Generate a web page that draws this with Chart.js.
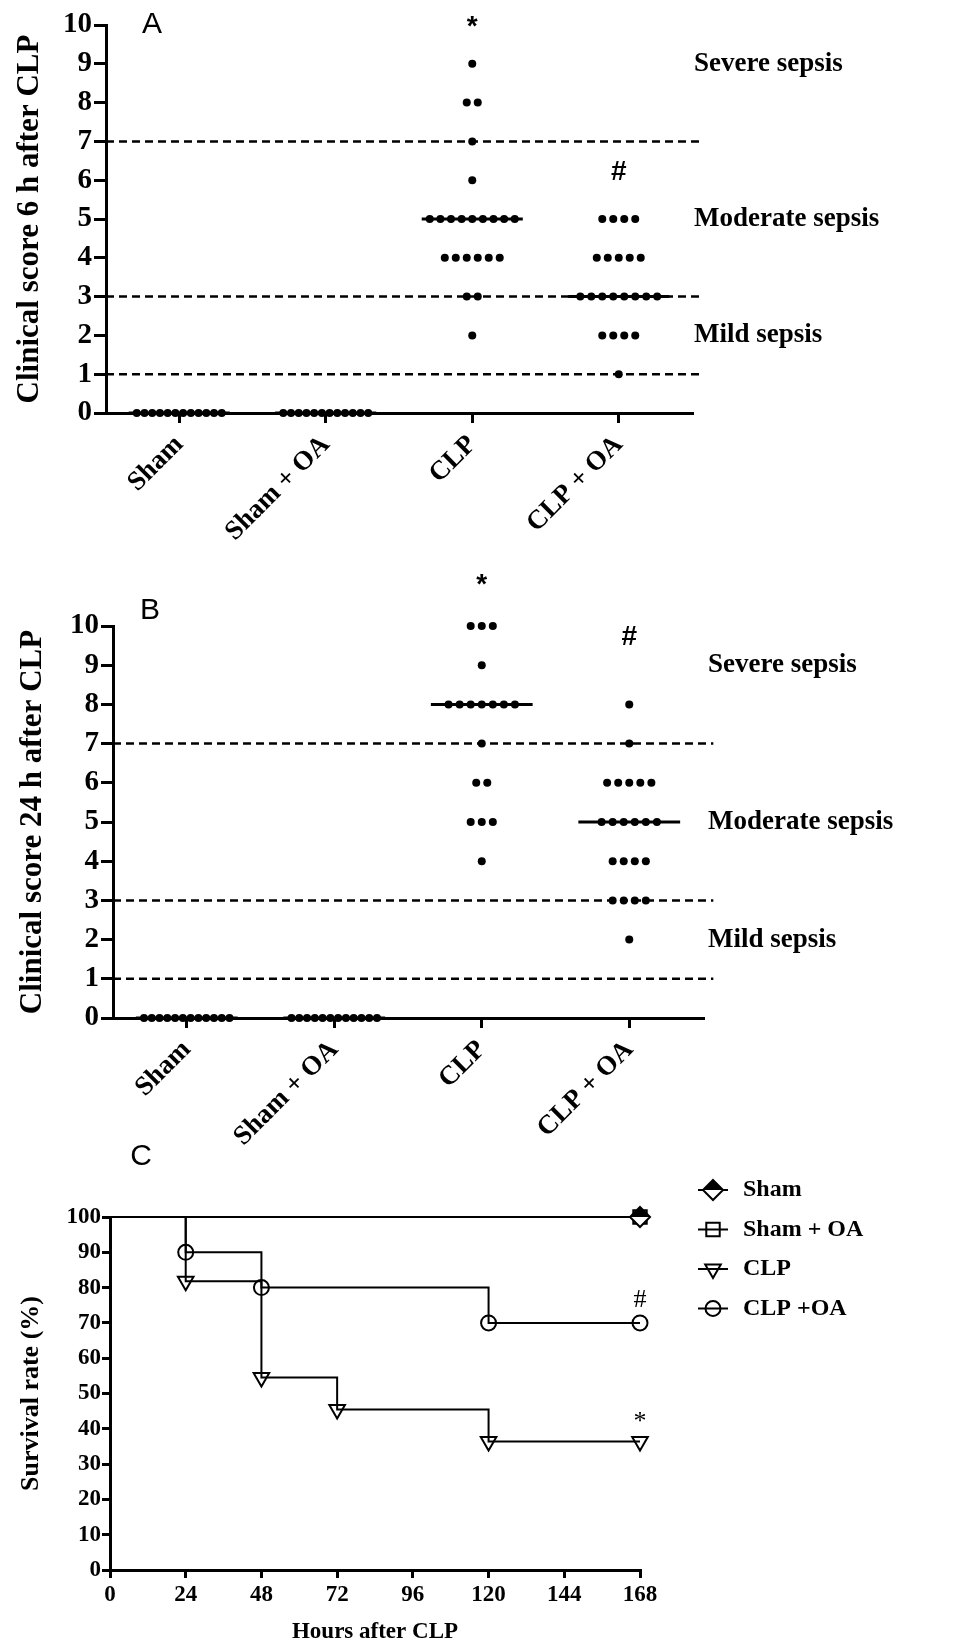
<!DOCTYPE html>
<html>
<head>
<meta charset="utf-8">
<script src="https://cdn.jsdelivr.net/npm/chart.js@4.4.1/dist/chart.umd.min.js"></script>
<style>
  body { margin: 0; background: #fff; width: 954px; height: 1648px; position: relative; overflow: hidden; }
  canvas { position: absolute; left: 0; display: block; }
</style>
</head>
<body>
<canvas id="chartA" width="954" height="570" style="top:0"></canvas>
<canvas id="chartB" width="954" height="580" style="top:570px"></canvas>
<canvas id="chartC" width="954" height="548" style="top:1100px"></canvas>
<script>
// grupos
const groups = ['Sham', 'Sham + OA', 'CLP', 'CLP + OA'];

// Panel A: clinical score 6 h after CLP
const score6hSham   = [0, 0, 0, 0, 0, 0, 0, 0, 0, 0, 0, 0];
const score6hShamOa = [0, 0, 0, 0, 0, 0, 0, 0, 0, 0, 0, 0];
const score6hClp    = [9, 8, 8, 7, 6, 5, 5, 5, 5, 5, 5, 5, 5, 5, 4, 4, 4, 4, 4, 4, 3, 3, 2];
const score6hClpOa  = [5, 5, 5, 5, 4, 4, 4, 4, 4, 3, 3, 3, 3, 3, 3, 3, 3, 2, 2, 2, 2, 1];
const sig6hText  = ['*', '#'];
const sig6hGroup = [2, 3];
const sig6hY     = [9.95, 6.2];

// Panel B: clinical score 24 h after CLP
const score24hSham   = [0, 0, 0, 0, 0, 0, 0, 0, 0, 0, 0, 0];
const score24hShamOa = [0, 0, 0, 0, 0, 0, 0, 0, 0, 0, 0, 0];
const score24hClp    = [10, 10, 10, 9, 8, 8, 8, 8, 8, 8, 8, 7, 6, 6, 5, 5, 5, 4];
const score24hClpOa  = [8, 7, 6, 6, 6, 6, 6, 5, 5, 5, 5, 5, 5, 4, 4, 4, 4, 3, 3, 3, 3, 2];
const sig24hText  = ['*', '#'];
const sig24hGroup = [2, 3];
const sig24hY     = [11.05, 9.7];

// bandas de sepsis
const thresholds = [1, 3, 7];
const zoneNames  = ['Mild sepsis', 'Moderate sepsis', 'Severe sepsis'];
const zoneY      = [2, 5, 9];

// Panel C: survival
const survNames   = ['Sham', 'Sham + OA', 'CLP', 'CLP +OA'];
const hoursSham   = [0, 168];
const survSham    = [100, 100];
const hoursShamOa = [0, 168];
const survShamOa  = [100, 100];
const hoursClp    = [0, 24, 48, 72, 120, 168];
const survClp     = [100, 81.8, 54.5, 45.5, 36.4, 36.4];
const hoursClpOa  = [0, 24, 48, 120, 168];
const survClpOa   = [100, 90, 80, 70, 70];
const sigSurvText = ['#', '*'];
const sigSurvX    = [168, 168];
const sigSurvY    = [76.5, 42];

const SERIF = '"Liberation Serif", "Times New Roman", serif';
const SANS = '"Liberation Sans", Arial, sans-serif';

function median(arr) {
    const s = [...arr].sort((a, b) => a - b);
    const n = s.length;
    return n % 2 ? s[(n - 1) / 2] : (s[n / 2 - 1] + s[n / 2]) / 2;
}

// puntos iguales uno al lado del otro
function swarm(values, gi) {
    const rows = {};
    values.forEach(v => (rows[v] = rows[v] || []).push(v));
    const pts = [];
    Object.keys(rows).forEach(k => {
        const n = rows[k].length;
        const step = n > 1 ? Math.min(0.075, 0.58 / (n - 1)) : 0;
        rows[k].forEach((v, i) => pts.push({ x: gi + (i - (n - 1) / 2) * step, y: v }));
    });
    return pts;
}

const notesPlugin = {
    id: 'notes',
    afterDatasetsDraw(chart, args, opts) {
        const { ctx, chartArea, scales: { x, y } } = chart;
        ctx.save();
        ctx.fillStyle = '#000';
        ctx.textBaseline = 'middle';
        (opts.marks || []).forEach(m => {
            ctx.font = m.font;
            ctx.textAlign = 'center';
            ctx.fillText(m.text, x.getPixelForValue(m.x), y.getPixelForValue(m.y));
        });
        (opts.zones || []).forEach(z => {
            ctx.font = 'bold 27px ' + SERIF;
            ctx.textAlign = 'left';
            ctx.fillText(z.text, chartArea.right + opts.zoneGap, y.getPixelForValue(z.y));
        });
        if (opts.letter) {
            ctx.font = opts.letter.font;
            ctx.textAlign = 'center';
            ctx.fillText(opts.letter.text, chartArea.left + opts.letter.dx, chartArea.top + opts.letter.dy);
        }
        ctx.restore();
    }
};

function axisStyle(tickLen) {
    return {
        grid: { drawOnChartArea: false, tickLength: tickLen, color: '#000', lineWidth: 3 },
        border: { color: '#000', width: 3 }
    };
}

function dotChart(id, series, sigText, sigGroup, sigY, title, geo) {
    const dots = series.flatMap((s, gi) => swarm(s, gi));
    const medians = series.map((s, gi) => ({
        data: [{ x: gi - 0.345, y: median(s) }, { x: gi + 0.345, y: median(s) }],
        showLine: true, borderColor: '#000', borderWidth: 3, pointRadius: 0, clip: false
    }));
    const dashed = thresholds.map(t => ({
        data: [{ x: -0.5, y: t }, { x: 3.57, y: t }],
        showLine: true, borderColor: '#000', borderWidth: 2.5, borderDash: [8, 5], pointRadius: 0, clip: false
    }));
    return new Chart(document.getElementById(id), {
        type: 'scatter',
        data: {
            datasets: [
                { data: dots, pointRadius: 4, pointBackgroundColor: '#000', pointBorderWidth: 0, clip: false },
                ...medians,
                ...dashed
            ]
        },
        options: {
            responsive: false,
            animation: false,
            events: [],
            layout: { padding: { left: 0, top: geo.top, right: geo.right, bottom: 0 } },
            plugins: {
                legend: { display: false },
                tooltip: { enabled: false },
                notes: {
                    marks: sigText.map((t, i) => ({ text: t, x: sigGroup[i], y: sigY[i], font: 'bold 28px ' + SANS })),
                    zones: zoneNames.map((z, i) => ({ text: z, y: zoneY[i] })),
                    zoneGap: geo.zoneGap,
                    letter: { text: geo.letter, font: '30px ' + SANS, dx: geo.letterDx, dy: geo.letterDy }
                }
            },
            scales: {
                x: {
                    type: 'linear', min: -0.5, max: 3.5,
                    afterBuildTicks: a => { a.ticks = groups.map((g, i) => ({ value: i })); },
                    afterFit: s => { s.height = geo.xHeight; },
                    ticks: {
                        callback: v => groups[v], minRotation: 45, maxRotation: 45, padding: 6,
                        color: '#000', font: { family: SERIF, weight: 'bold', size: 27 }
                    },
                    ...axisStyle(10)
                },
                y: {
                    min: 0, max: 10,
                    afterFit: s => { s.width = geo.yWidth; },
                    ticks: { stepSize: 1, padding: 2, color: '#000', font: { family: SERIF, weight: 'bold', size: 29 } },
                    title: {
                        display: true, text: title, color: '#000', padding: { top: geo.titlePad, bottom: 0 },
                        font: { family: SERIF, weight: 'bold', size: 31 }
                    },
                    ...axisStyle(12)
                }
            }
        },
        plugins: [notesPlugin]
    });
}

dotChart('chartA', [score6hSham, score6hShamOa, score6hClp, score6hClpOa],
    sig6hText, sig6hGroup, sig6hY, 'Clinical score 6 h after CLP',
    { top: 25, right: 262, xHeight: 157, yWidth: 106, titlePad: 11, zoneGap: 2, letter: 'A', letterDx: 46, letterDy: 0 });

dotChart('chartB', [score24hSham, score24hShamOa, score24hClp, score24hClpOa],
    sig24hText, sig24hGroup, sig24hY, 'Clinical score 24 h after CLP',
    { top: 56, right: 251, xHeight: 132, yWidth: 113, titlePad: 14, zoneGap: 5, letter: 'B', letterDx: 37, letterDy: -15 });

// Panel C
function halfDiamond(r) {
    const c = document.createElement('canvas');
    const s = 2 * r + 4;
    c.width = c.height = s;
    const g = c.getContext('2d');
    const m = s / 2;
    g.lineWidth = 2;
    g.beginPath();
    g.moveTo(m, m - r); g.lineTo(m + r, m); g.lineTo(m, m + r); g.lineTo(m - r, m); g.closePath();
    g.fillStyle = '#fff'; g.fill(); g.stroke();
    g.beginPath();
    g.moveTo(m, m - r); g.lineTo(m + r, m); g.lineTo(m - r, m); g.closePath();
    g.fillStyle = '#000'; g.fill();
    return c;
}

const markers = [
    { pointStyle: halfDiamond(10), radius: 10, rotation: 0 },
    { pointStyle: 'rect', radius: 9.5, rotation: 0 },
    { pointStyle: 'triangle', radius: 9, rotation: 180 },
    { pointStyle: 'circle', radius: 7.5, rotation: 0 }
];

function survSet(hours, surv, mk) {
    return {
        data: hours.map((h, i) => ({ x: h, y: surv[i] })),
        showLine: true, stepped: true, borderColor: '#000', borderWidth: 2,
        pointStyle: mk.pointStyle, pointRotation: mk.rotation,
        pointRadius: hours.map((h, i) => i === 0 ? 0 : mk.radius),
        pointBackgroundColor: 'rgba(0,0,0,0)', pointBorderColor: '#000', pointBorderWidth: 2,
        clip: false
    };
}

const legendPlugin = {
    id: 'survLegend',
    afterDraw(chart) {
        const { ctx, chartArea } = chart;
        ctx.save();
        survNames.forEach((name, i) => {
            const cx = chartArea.right + 73;
            const cy = chartArea.top - 27 + i * 39.5;
            ctx.strokeStyle = '#000';
            ctx.lineWidth = 2;
            ctx.beginPath(); ctx.moveTo(cx - 15, cy); ctx.lineTo(cx + 15, cy); ctx.stroke();
            ctx.fillStyle = 'rgba(0,0,0,0)';
            Chart.helpers.drawPoint(ctx, { pointStyle: markers[i].pointStyle, radius: markers[i].radius, rotation: markers[i].rotation, borderWidth: 2 }, cx, cy);
            ctx.fillStyle = '#000';
            ctx.font = 'bold 24px ' + SERIF;
            ctx.textAlign = 'left';
            ctx.textBaseline = 'middle';
            ctx.fillText(name, cx + 30, cy);
        });
        ctx.restore();
    }
};

new Chart(document.getElementById('chartC'), {
    type: 'scatter',
    data: {
        datasets: [
            survSet(hoursSham, survSham, markers[0]),
            survSet(hoursShamOa, survShamOa, markers[1]),
            survSet(hoursClp, survClp, markers[2]),
            survSet(hoursClpOa, survClpOa, markers[3])
        ]
    },
    options: {
        responsive: false,
        animation: false,
        events: [],
        layout: { padding: { left: 0, top: 117, right: 314, bottom: 0 } },
        plugins: {
            legend: { display: false },
            tooltip: { enabled: false },
            notes: {
                marks: sigSurvText.map((t, i) => ({ text: t, x: sigSurvX[i], y: sigSurvY[i], font: '26px ' + SERIF })),
                zones: [],
                letter: { text: 'C', font: '30px ' + SANS, dx: 31, dy: -60 }
            }
        },
        scales: {
            x: {
                type: 'linear', min: 0, max: 168,
                afterFit: s => { s.height = 78; },
                ticks: { stepSize: 24, padding: 3, maxRotation: 0, color: '#000', font: { family: SERIF, weight: 'bold', size: 23 } },
                title: { display: true, text: 'Hours after CLP', color: '#000', padding: { top: 0, bottom: 2 }, font: { family: SERIF, weight: 'bold', size: 23 } },
                ...axisStyle(8)
            },
            y: {
                min: 0, max: 100,
                afterFit: s => { s.width = 110; },
                ticks: { stepSize: 10, padding: 1, color: '#000', font: { family: SERIF, weight: 'bold', size: 23 } },
                title: { display: true, text: 'Survival rate (%)', color: '#000', padding: { top: 16, bottom: 0 }, font: { family: SERIF, weight: 'bold', size: 26 } },
                ...axisStyle(8)
            }
        }
    },
    plugins: [notesPlugin, legendPlugin]
});
</script>
</body>
</html>
